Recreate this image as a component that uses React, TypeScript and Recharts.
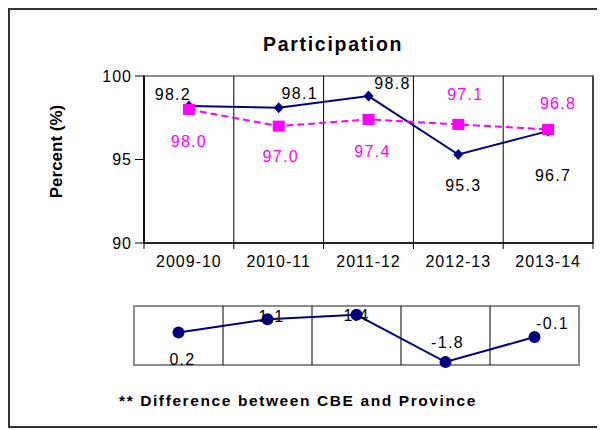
import React from "react";
import {
  LineChart,
  Line,
  XAxis,
  YAxis,
  ReferenceLine,
  ReferenceArea,
  LabelList,
} from "recharts";

const years = ["2009-10", "2010-11", "2011-12", "2012-13", "2013-14"];
const cbe = [98.2, 98.1, 98.8, 95.3, 96.7];
const province = [98.0, 97.0, 97.4, 97.1, 96.8];
const difference = [0.2, 1.1, 1.4, -1.8, -0.1];
const yTicks = [90, 95, 100];
const boundaries = [0, 1, 2, 3, 4, 5];
const centerTicks = [0.5, 1.5, 2.5, 3.5, 4.5];

const data = years.map((year, i) => ({
  pos: i + 0.5,
  year,
  cbe: cbe[i],
  province: province[i],
  diff: difference[i],
}));

// label nudges (dx, dy) so the numbers sit where the original put them
const cbeLabelPos = [[-16, -12], [21, -14], [24, -13], [5, 31], [5, 44]];
const provLabelPos = [[0, 32], [2, 30], [4, 32], [7, -30], [10, -26]];
const diffLabelPos = [[4, 27], [4, -3], [0, 1], [2, -20], [18, -13]];

const NAVY = "#000080";
const MAGENTA = "#FF00FF";
const FONT = '"Liberation Sans", Arial, sans-serif';

const Diamond = ({ cx, cy }: any) =>
  cx == null ? null : (
    <path d={`M${cx} ${cy - 5.5}L${cx + 5} ${cy}L${cx} ${cy + 5.5}L${cx - 5} ${cy}Z`} fill={NAVY} />
  );

const Square = ({ cx, cy }: any) =>
  cx == null ? null : <rect x={cx - 6} y={cy - 5.5} width={12} height={11} fill={MAGENTA} />;

// grid line that also pokes out below the axis like an Excel tick mark
const GridWithTick = (props: any) => {
  const { x1, y1, x2, y2 } = props;
  if (x1 == null) return null;
  const top = Math.min(y1, y2);
  const bottom = Math.max(y1, y2);
  return <line x1={x1} y1={top} x2={x2} y2={bottom + 6} stroke="#000" strokeWidth={1} />;
};

const makeLabel = (offsets: number[][], color: string) => (props: any) => {
  const { x, y, value, index } = props;
  const [dx, dy] = offsets[index] || [0, 0];
  return (
    <text
      x={x + dx}
      y={y + dy}
      textAnchor="middle"
      dominantBaseline="central"
      fill={color}
      fontSize={16}
      letterSpacing={1.3}
      fontFamily={FONT}
    >
      {Number(value).toFixed(1)}
    </text>
  );
};

const YTitle = ({ viewBox }: any) => {
  const x = viewBox.x + 54;
  const y = viewBox.y + viewBox.height / 2 - 8;
  return (
    <text
      x={x}
      y={y}
      transform={`rotate(-90 ${x} ${y})`}
      textAnchor="middle"
      fontSize={17}
      fontWeight="bold"
      fontFamily={FONT}
      fill="#000"
    >
      Percent (%)
    </text>
  );
};

const tickStyle = { fontSize: 16, fill: "#000", fontFamily: FONT, letterSpacing: 1 };

export default function App() {
  return (
    <div style={{ position: "relative", width: 597, height: 422, fontFamily: FONT }}>
      {/* outer frame; its right side runs off the page in the original */}
      <div
        style={{
          position: "absolute",
          left: 0,
          top: 0,
          width: 597,
          height: 420,
          borderTop: "2px solid #333",
          borderLeft: "2px solid #333",
          borderBottom: "2px solid #333",
          boxSizing: "border-box",
        }}
      />
      <div
        style={{
          position: "absolute",
          left: 255,
          top: 27,
          fontSize: 19.5,
          lineHeight: 1,
          fontWeight: "bold",
          letterSpacing: 1.7,
          whiteSpace: "nowrap",
        }}
      >
        Participation
      </div>

      <div style={{ position: "absolute", left: 0, top: 0 }}>
        <LineChart width={597} height={290} data={data} margin={{ top: 68, right: 12, bottom: 24, left: 0 }}>
          <ReferenceArea
            x1={0}
            x2={5}
            y1={90}
            y2={100}
            ifOverflow="visible"
            fill="none"
            fillOpacity={0}
            stroke="#8c8c8c"
            strokeWidth={2}
          />
          {boundaries.map((b) => (
            <ReferenceLine key={`g-${b}`} x={b} ifOverflow="visible" shape={GridWithTick} />
          ))}
          <XAxis
            type="number"
            dataKey="pos"
            domain={[0, 5]}
            ticks={centerTicks}
            tickFormatter={(v: number) => years[Math.floor(v)]}
            tick={tickStyle}
            tickSize={0}
            tickMargin={13}
            height={31}
            axisLine={{ stroke: "#000", strokeWidth: 1.5 }}
            tickLine={false}
          />
          <YAxis
            domain={[90, 100]}
            ticks={yTicks}
            width={136}
            tick={tickStyle}
            tickSize={9}
            tickMargin={3}
            axisLine={{ stroke: "#000", strokeWidth: 1.5 }}
            tickLine={{ stroke: "#000" }}
            label={<YTitle />}
          />
          <Line
            dataKey="cbe"
            stroke={NAVY}
            strokeWidth={2}
            dot={(p: any) => <Diamond key={`d-${p.index}`} {...p} />}
            isAnimationActive={false}
          >
            <LabelList dataKey="cbe" content={makeLabel(cbeLabelPos, "#000")} />
          </Line>
          <Line
            dataKey="province"
            stroke={MAGENTA}
            strokeWidth={2}
            strokeDasharray="7 4"
            dot={(p: any) => <Square key={`s-${p.index}`} {...p} />}
            isAnimationActive={false}
          >
            <LabelList dataKey="province" content={makeLabel(provLabelPos, MAGENTA)} />
          </Line>
        </LineChart>
      </div>

      <div style={{ position: "absolute", left: 116, top: 288 }}>
        <LineChart width={475} height={90} data={data} margin={{ top: 10, right: 20, bottom: 21, left: 10 }}>
          <XAxis type="number" dataKey="pos" domain={[0, 5]} hide />
          <YAxis hide domain={[-2, 2]} />
          {boundaries.slice(1, -1).map((b) => (
            <ReferenceLine key={`dg-${b}`} x={b} stroke="#000" strokeWidth={1} />
          ))}
          <ReferenceArea
            x1={0}
            x2={5}
            y1={-2}
            y2={2}
            ifOverflow="visible"
            fill="none"
            fillOpacity={0}
            stroke="#8c8c8c"
            strokeWidth={2}
          />
          <Line
            dataKey="diff"
            stroke={NAVY}
            strokeWidth={2}
            dot={{ r: 6, fill: NAVY, stroke: NAVY, strokeWidth: 0 }}
            isAnimationActive={false}
          >
            <LabelList dataKey="diff" content={makeLabel(diffLabelPos, "#000")} />
          </Line>
        </LineChart>
      </div>

      <div
        style={{
          position: "absolute",
          left: 111,
          top: 385,
          fontSize: 15.5,
          lineHeight: 1,
          fontWeight: "bold",
          letterSpacing: 1.6,
          whiteSpace: "nowrap",
        }}
      >
        ** Difference between CBE and Province
      </div>
    </div>
  );
}
